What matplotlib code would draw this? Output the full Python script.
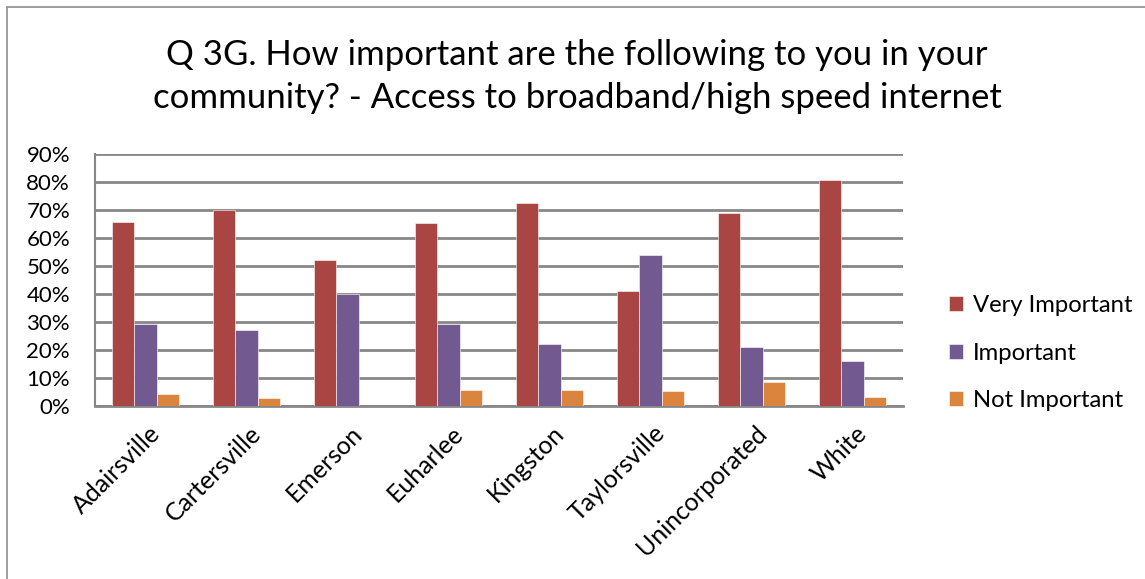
import matplotlib.pyplot as plt
import numpy as np
from matplotlib.ticker import PercentFormatter
from matplotlib.patches import Rectangle

plt.rcParams['font.family'] = ['Lato', 'DejaVu Sans']

towns = ['Adairsville', 'Cartersville', 'Emerson', 'Euharlee', 'Kingston',
         'Taylorsville', 'Unincorporated', 'White']
very_important = [65.7, 70.0, 52.1, 65.2, 72.4, 41.1, 69.0, 80.7]
important = [29.3, 27.0, 40.1, 29.3, 22.3, 53.9, 21.1, 16.2]
not_important = [4.2, 2.9, 0.0, 5.7, 5.7, 5.2, 8.5, 3.3]

series = [('Very Important', very_important, '#A94542'),
          ('Important', important, '#72598F'),
          ('Not Important', not_important, '#DB843D')]

fig = plt.figure(figsize=(11.45, 5.79), dpi=100)
ax = fig.add_axes([95 / 1145, 1 - 406 / 579, (903 - 95) / 1145, (406 - 154) / 579])

# outer chart frame
fig.patches.append(Rectangle((7 / 1145, -0.01), 1.2, 1 - 7 / 579 + 0.01, transform=fig.transFigure,
                             fill=False, edgecolor='#8C8C8C', linewidth=1.2))

x = np.arange(len(towns))
w = 1 / 4.5
for i, (name, vals, col) in enumerate(series):
    ax.bar(x + (i - 1) * w, vals, w, color=col, edgecolor='white', linewidth=0.4,
           label=name, zorder=3)

ax.set_xlim(-0.5, len(towns) - 0.5)
ax.set_ylim(0, 90)
ax.set_yticks(range(0, 91, 10))
ax.yaxis.set_major_formatter(PercentFormatter(decimals=0))
ax.grid(axis='y', color='#878787', linewidth=2, zorder=0)
for s in ['top', 'right']:
    ax.spines[s].set_visible(False)
ax.spines['left'].set_color('#878787')
ax.spines['left'].set_linewidth(1.5)
ax.spines['bottom'].set_color('#878787')
ax.spines['bottom'].set_linewidth(2)
ax.tick_params(axis='y', length=0, labelsize=16, colors='black', pad=18)
ax.tick_params(axis='x', length=0, labelsize=18, colors='black', pad=11)
ax.set_xticks(x + 0.03)
ax.set_xticklabels(towns, rotation=45, ha='right', rotation_mode='anchor')

fig.text(0.504, 0.868, 'Q 3G. How important are the following to you in your\n'
         'community? - Access to broadband/high speed internet',
         ha='center', va='center', fontsize=25, linespacing=1.4)

ax.legend(loc='center left', bbox_to_anchor=(1.03, 0.21), frameon=False,
          fontsize=17.2, handlelength=0.6, handleheight=0.6, labelspacing=1.1,
          handletextpad=0.4)

plt.savefig('out.png', dpi=100)
